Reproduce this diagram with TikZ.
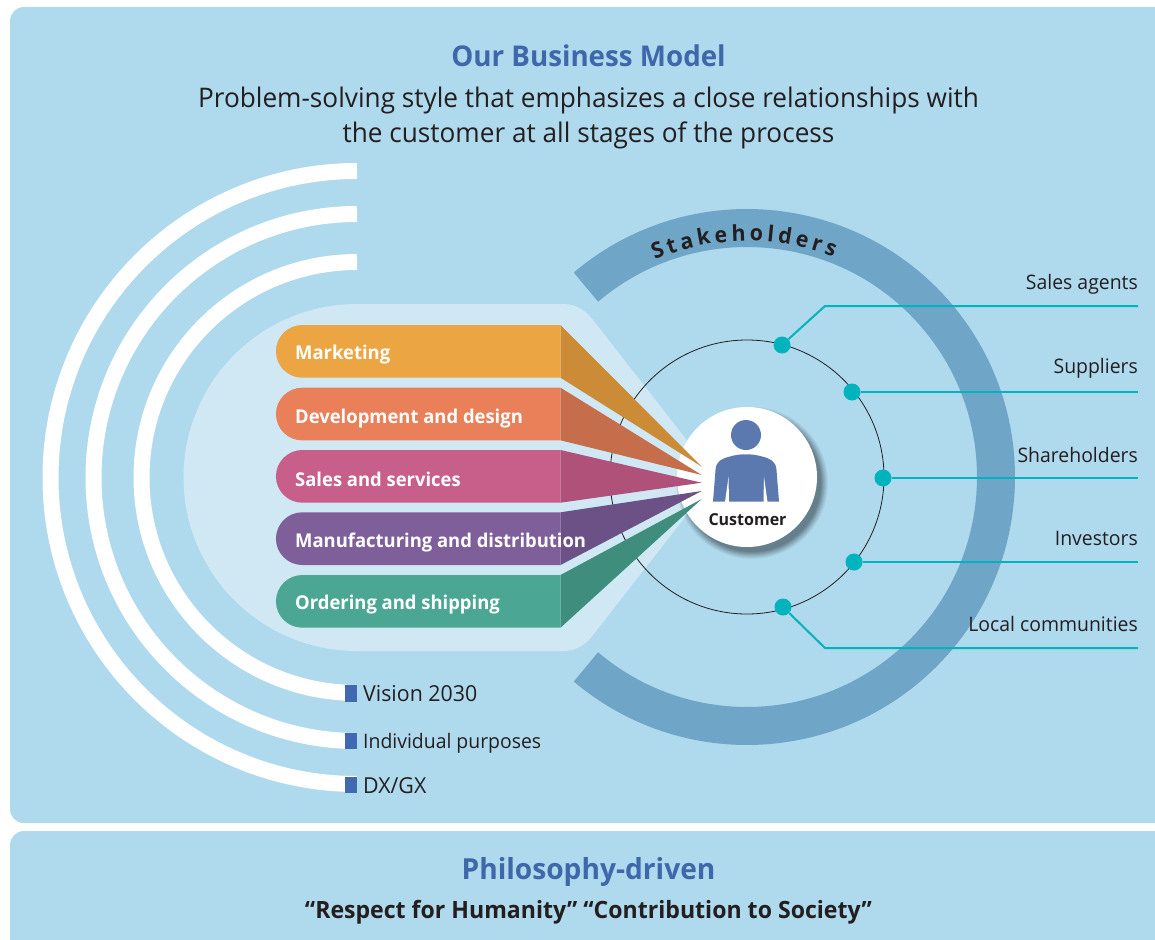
\documentclass[tikz,border=0pt]{standalone}
\usepackage{fontspec}
\setmainfont{Open Sans}[FakeStretch=0.97]
\usetikzlibrary{decorations.text}
\definecolor{panelbg}{HTML}{AFD9ED}
\definecolor{lightbg}{HTML}{CFE8F4}
\definecolor{titleblue}{HTML}{3F68AB}
\definecolor{squareblue}{HTML}{4169B2}
\definecolor{personblue}{HTML}{5C79AF}
\definecolor{ringblue}{HTML}{6FA5C6}
\definecolor{teal}{HTML}{00B3BC}
\definecolor{inkdark}{HTML}{231F20}
\definecolor{mkA}{HTML}{ECA543}\definecolor{mkB}{HTML}{CC8B36}
\definecolor{dvA}{HTML}{E98059}\definecolor{dvB}{HTML}{C66D4B}
\definecolor{slA}{HTML}{C85F8B}\definecolor{slB}{HTML}{AF5178}
\definecolor{mfA}{HTML}{7E5F99}\definecolor{mfB}{HTML}{6B5186}
\definecolor{orA}{HTML}{4BA793}\definecolor{orB}{HTML}{3F8D7C}
\tikzset{
  x=1pt,y=-1pt,
  whitearc/.style={draw=white,line width=16pt},
  bartext/.style={anchor=west,text=white,font=\fontsize{19}{23}\selectfont\bfseries,inner sep=0pt},
  sidelabel/.style={anchor=east,text=inkdark,font=\fontsize{20}{24}\selectfont,inner sep=0pt},
  keylabel/.style={anchor=west,text=inkdark,font=\fontsize{22}{26}\selectfont,inner sep=0pt},
  keysquare/.style={fill=squareblue,draw=none,minimum width=12pt,minimum height=16.5pt,inner sep=0pt},
  dot/.style={circle,fill=teal,draw=none,minimum size=17pt,inner sep=0pt},
  tealline/.style={draw=teal,line width=2pt},
}
\newcommand{\fanbar}[5]{% top bottom tip colourA colourB
  \fill[#5] (560.5,#1) -- (701.7,#3) -- (560.5,#2) -- cycle;
  \fill[#4] (560.5,#1) -- (302.3,#1) arc[start angle=-90,end angle=-270,radius=26.35] -- (560.5,#2) -- cycle;
}
\begin{document}
\begin{tikzpicture}
\useasboundingbox (0,0) rectangle (1155,939);
\fill[white] (0,0) rectangle (1155,939);
% panels
\fill[panelbg,rounded corners=14pt] (10,7) rectangle (1175,823);
\fill[panelbg,rounded corners=14pt] (10,831) rectangle (1175,960);
% titles
\node[text=titleblue,font=\fontsize{28.6}{34}\selectfont\bfseries,inner sep=0pt] (title) at (588.5,56) {Our Business Model};
\node[text=inkdark,font=\fontsize{27}{35.5}\selectfont,align=center,inner sep=0pt] (subtitle) at (588.5,118) {Problem-solving style that emphasizes a close relationships with\\the customer at all stages of the process};
% white arcs
\draw[whitearc] (357,171) arc[start angle=-90,end angle=-270,radius=306.5];
\draw[whitearc] (357,214) arc[start angle=-90,end angle=-270,radius=263.5];
\draw[whitearc] (357,262) arc[start angle=-90,end angle=-270,radius=215.5];
% key squares
\node[keysquare] (kv) at (351,693.5) {};
\node[keysquare] (ki) at (351,741) {};
\node[keysquare] (kd) at (351,785) {};
\node[keylabel] (lv) at (363,694) {Vision 2030};
\node[keylabel,font=\fontsize{20}{24}\selectfont] (li) at (363,743) {Individual purposes};
\node[keylabel] (ld) at (363,786) {DX/GX};
% stakeholders ring
\draw[ringblue,line width=38pt] (747,477) ++(-130.3:249) arc[start angle=-130.3,end angle=130.3,radius=249];
\path[decorate,decoration={text along path,text align={fit to path},text={|\fontsize{22}{26}\selectfont\bfseries\color{inkdark}|Stakeholders}}]
  (747,477) ++(-113:236) arc[start angle=-113,end angle=-68.5,radius=236];
% light shape
\fill[lightbg] (357,304) -- (563,304) .. controls (577,304) and (586,311) .. (593,320) -- (716,477.5) -- (593,635) .. controls (586,644) and (577,651) .. (563,651) -- (357,651) arc[start angle=90,end angle=270,radius=173.5] -- cycle;
% thin circle
\draw[inkdark,line width=0.8pt] (747,477) circle[radius=137];
% shadow + customer circle
\foreach \r/\o in {76/0.04,75/0.05,74/0.05,73/0.06,72/0.07,71/0.07,70/0.08,69/0.08}{
  \fill[black,opacity=\o] (752,483) circle[radius=\r];
}
\node[circle,fill=white,minimum size=140pt,inner sep=0pt] (customer) at (747,477) {};
% person
\fill[personblue] (746,435) circle[radius=15];
\fill[personblue] (713,501.7) -- (715.5,470) .. controls (716,461) and (722,458.5) .. (730,456.5) .. controls (740,453.5) and (752,453.5) .. (762,456.5) .. controls (770,458.5) and (776,461) .. (776.5,470) -- (779,501.7) -- cycle;
\fill[white] (728.5,477) -- (725,502) -- (729,502) -- cycle;
\fill[white] (764,477) -- (763.5,502) -- (767.5,502) -- cycle;
\node[text=inkdark,font=\fontsize{16.5}{19}\selectfont\bfseries,inner sep=0pt] (custlabel) at (747.5,520) {Customer};
% fan bars
\fanbar{325}{377.7}{466.7}{mkA}{mkB}
\fanbar{387.7}{440.3}{475}{dvA}{dvB}
\fanbar{450}{502.7}{482.7}{slA}{slB}
\fanbar{512.3}{565}{491}{mfA}{mfB}
\fanbar{575}{627.7}{499}{orA}{orB}
\node[bartext] (bm) at (295,355) {Marketing};
\node[bartext] (bd) at (295,419) {Development and design};
\node[bartext] (bs) at (295,479) {Sales and services};
\node[bartext] (bf) at (295,543) {Manufacturing and distribution};
\node[bartext] (bo) at (295,605) {Ordering and shipping};
% stakeholders connectors
\node[dot] (d1) at (782,345) {};
\node[dot] (d2) at (852,392) {};
\node[dot] (d3) at (883,478) {};
\node[dot] (d4) at (854,562) {};
\node[dot] (d5) at (783,607) {};
\coordinate (e1) at (1138,306);
\coordinate (e2) at (1138,392);
\coordinate (e3) at (1138,478);
\coordinate (e4) at (1138,562);
\coordinate (e5) at (1138,648);
\draw[tealline] (d1) -- (825,306) -- (e1);
\draw[tealline] (d2) -- (e2);
\draw[tealline] (d3) -- (e3);
\draw[tealline] (d4) -- (e4);
\draw[tealline] (d5) -- (825,648) -- (e5);
\node[sidelabel] (s1) at (1138,284) {Sales agents};
\node[sidelabel] (s2) at (1138,368) {Suppliers};
\node[sidelabel] (s3) at (1138,455) {Shareholders};
\node[sidelabel] (s4) at (1138,538) {Investors};
\node[sidelabel] (s5) at (1138,624) {Local communities};
% bottom panel
\node[text=titleblue,font=\fontsize{29}{34}\selectfont\bfseries,inner sep=0pt] (phil) at (588.5,872) {Philosophy-driven};
\node[text=inkdark,font=\fontsize{23.8}{28}\selectfont\bfseries,inner sep=0pt] (resp) at (588.5,912) {“Respect for Humanity” “Contribution to Society”};
\end{tikzpicture}
\end{document}
